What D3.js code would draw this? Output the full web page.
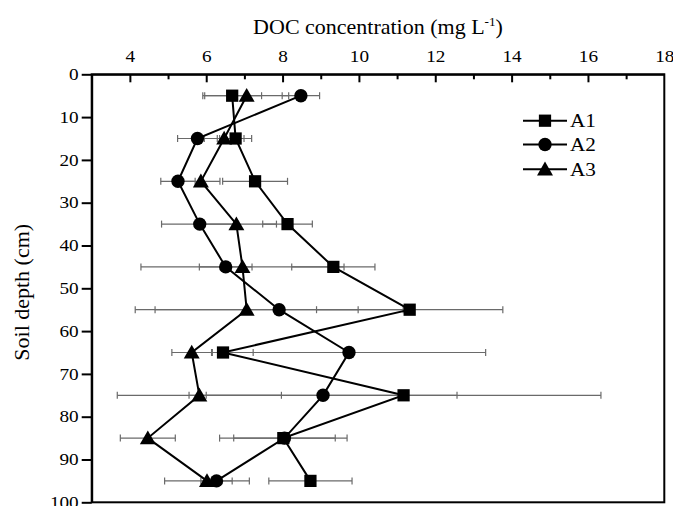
<!DOCTYPE html>
<html>
<head>
<meta charset="utf-8">
<script src="https://cdn.jsdelivr.net/npm/d3@7/dist/d3.min.js"></script>
<style>
  html, body { margin: 0; padding: 0; background: #fff; }
  svg { display: block; font-family: "Liberation Serif", "Times New Roman", serif; }
</style>
</head>
<body>
<svg id="chart" width="673" height="506"></svg>
<script>
// Soil depth (cm) of each sampling layer
const depths = [5, 15, 25, 35, 45, 55, 65, 75, 85, 95];

// DOC concentration (mg L-1), mean and standard deviation per layer
const a1 = [6.68, 6.77, 7.28, 8.13, 9.33, 11.33, 6.44, 11.17, 8.02, 8.73];
const a1Err = [0.77, 0.42, 0.85, 0.65, 1.09, 2.44, 0.79, 5.17, 1.67, 1.09];
const a2 = [8.48, 5.77, 5.26, 5.83, 6.51, 7.91, 9.74, 9.06, 8.05, 6.27];
const a2Err = [0.49, 0.52, 0.45, 1.00, 0.69, 3.25, 3.58, 3.51, 1.33, 0.41];
const a3 = [7.06, 6.47, 5.86, 6.79, 6.95, 7.06, 5.62, 5.82, 4.47, 6.02];
const a3Err = [1.10, 0.52, 0.50, 1.05, 2.66, 2.92, 0.52, 2.15, 0.72, 1.11];

const seriesNames = ["A1", "A2", "A3"];
const markerShapes = { A1: d3.symbolSquare, A2: d3.symbolCircle, A3: d3.symbolTriangle };
const markerSizes = { A1: 150, A2: 140, A3: 110 };

// Axis ticks
const xMajorTicks = [4, 6, 8, 10, 12, 14, 16, 18];
const xMinorTicks = [5, 7, 9, 11, 13, 15, 17];
const yTicks = [0, 10, 20, 30, 40, 50, 60, 70, 80, 90, 100];

const series = [
  { name: "A1", values: a1, errors: a1Err },
  { name: "A2", values: a2, errors: a2Err },
  { name: "A3", values: a3, errors: a3Err }
];
// Draw order: squares first, then triangles, circles on top
const drawOrder = ["A1", "A3", "A2"];

const svg = d3.select("#chart");
const plotLeft = 91.7, plotRight = 664.3, plotTop = 74.3, plotBottom = 502.3;
const serif = "Liberation Serif";
const stretch = 1.2;   // horizontal stretch applied to the lettering

const x = d3.scaleLinear().domain([3, 18]).range([plotLeft, plotRight]);
const y = d3.scaleLinear().domain([0, 100]).range([plotTop, plotBottom]);

// Frame
svg.append("rect")
  .attr("x", plotLeft).attr("y", plotTop)
  .attr("width", plotRight - plotLeft).attr("height", plotBottom - plotTop)
  .attr("fill", "none").attr("stroke", "#000").attr("stroke-width", 2);

// Top x axis (ticks pointing into the plot)
const xAxis = svg.append("g")
  .attr("transform", `translate(0,${plotTop})`)
  .call(d3.axisTop(x).tickValues(xMajorTicks).tickSizeInner(-8).tickSizeOuter(0).tickPadding(12).tickFormat(d3.format("d")))
  .attr("font-family", serif);
xAxis.select(".domain").attr("stroke-width", 2);
xAxis.selectAll(".tick line").attr("stroke-width", 2);
xAxis.selectAll(".tick text")
  .attr("font-size", 16).attr("font-family", serif).attr("fill", "#000")
  .attr("transform", `scale(${stretch},1)`);
// the 18 label sits at the frame corner
xAxis.selectAll(".tick").filter(d => d === 18).select("line").remove();

const xMinor = svg.append("g")
  .attr("transform", `translate(0,${plotTop})`)
  .call(d3.axisTop(x).tickValues(xMinorTicks).tickSizeInner(-5).tickSizeOuter(0).tickFormat(""));
xMinor.select(".domain").remove();
xMinor.selectAll(".tick line").attr("stroke-width", 2);

// Left y axis (depth increases downward)
const yAxis = svg.append("g")
  .attr("transform", `translate(${plotLeft},0)`)
  .call(d3.axisLeft(y).tickValues(yTicks).tickSizeInner(10).tickSizeOuter(0).tickPadding(3).tickFormat(d3.format("d")))
  .attr("font-family", serif);
yAxis.select(".domain").attr("stroke-width", 2);
yAxis.selectAll(".tick line").attr("stroke-width", 2);
yAxis.selectAll(".tick text")
  .attr("font-size", 16).attr("font-family", serif).attr("fill", "#000")
  .attr("x", -13 / stretch)
  .attr("transform", `scale(${stretch},1)`);

// Axis titles
const xTitle = svg.append("text")
  .attr("transform", `translate(${(plotLeft + plotRight) / 2},34) scale(1.1,1)`)
  .attr("text-anchor", "middle").attr("font-size", 20).attr("fill", "#000");
xTitle.append("tspan").text("DOC concentration (mg L");
xTitle.append("tspan").attr("font-size", 12).attr("dy", -8).text("-1");
xTitle.append("tspan").attr("dy", 8).text(")");

svg.append("text")
  .attr("transform", `translate(29,${(plotTop + plotBottom) / 2 + 4}) rotate(-90) scale(1.1,1)`)
  .attr("text-anchor", "middle").attr("font-size", 20).attr("fill", "#000")
  .text("Soil depth (cm)");

// Error bars
const capH = 3.5;
const errG = svg.append("g").attr("stroke", "#6a6a6a").attr("stroke-width", 1.2).attr("fill", "none");
series.forEach(s => {
  s.values.forEach((v, i) => {
    const e = s.errors[i], yy = y(depths[i]);
    const x0 = x(v - e), x1 = x(v + e);
    errG.append("line").attr("x1", x0).attr("x2", x1).attr("y1", yy).attr("y2", yy);
    errG.append("line").attr("x1", x0).attr("x2", x0).attr("y1", yy - capH).attr("y2", yy + capH);
    errG.append("line").attr("x1", x1).attr("x2", x1).attr("y1", yy - capH).attr("y2", yy + capH);
  });
});

// Profiles and markers
const line = d3.line().x(d => x(d.v)).y(d => y(d.depth));
drawOrder.forEach(name => {
  const s = series.find(t => t.name === name);
  const pts = s.values.map((v, i) => ({ v, depth: depths[i] }));
  svg.append("path").datum(pts)
    .attr("d", line).attr("fill", "none").attr("stroke", "#000").attr("stroke-width", 2);
  const sym = d3.symbol().type(markerShapes[name]).size(markerSizes[name]);
  svg.append("g").selectAll("path").data(pts).join("path")
    .attr("transform", d => `translate(${x(d.v)},${y(d.depth) + (name === "A3" ? 1.5 : 0)})`)
    .attr("d", sym).attr("fill", "#000");
});

// Legend
const legend = svg.append("g");
const legendRows = [120.7, 144.5, 169.3];
seriesNames.forEach((name, i) => {
  const yy = legendRows[i];
  legend.append("line").attr("x1", 523).attr("x2", 567).attr("y1", yy).attr("y2", yy)
    .attr("stroke", "#000").attr("stroke-width", 2);
  legend.append("path")
    .attr("transform", `translate(545,${yy + (name === "A3" ? 1.5 : 0)})`)
    .attr("d", d3.symbol().type(markerShapes[name]).size(markerSizes[name])())
    .attr("fill", "#000");
  legend.append("text")
    .attr("transform", `translate(570,${yy}) scale(1.18,1)`)
    .attr("dy", "0.35em")
    .attr("font-size", 18).attr("fill", "#000").text(name);
});
</script>
</body>
</html>
